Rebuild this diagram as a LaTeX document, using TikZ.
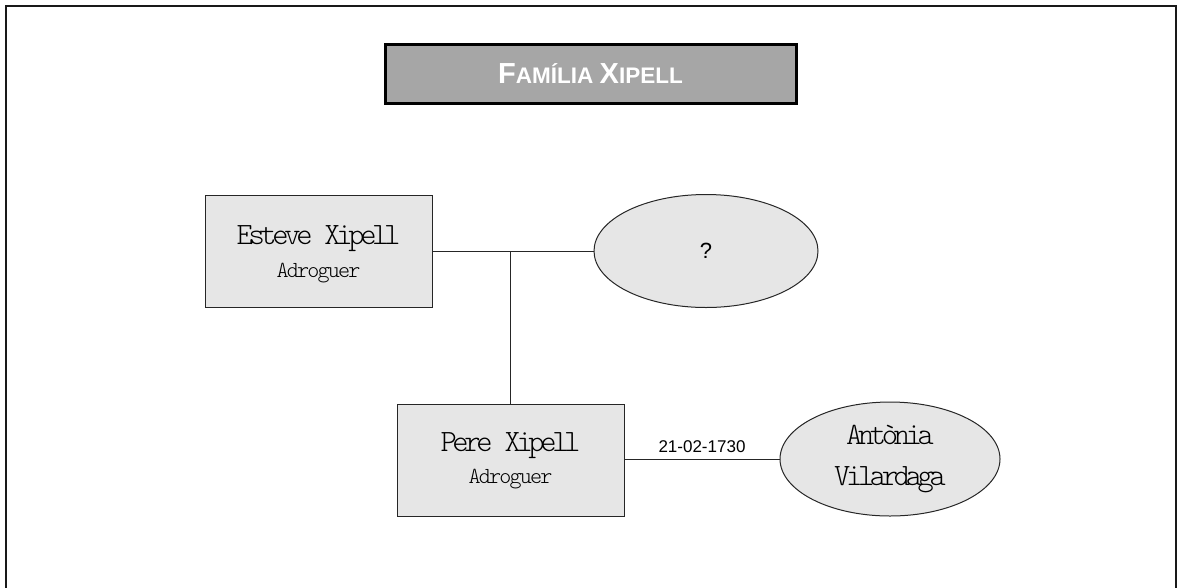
\documentclass[tikz,border=0pt]{standalone}
\usepackage{fontspec}
\setmainfont{Liberation Serif}
\newfontfamily\namefont[LetterSpace=-14]{Latin Modern Mono Light}
\newfontfamily\jobfont[LetterSpace=-8]{Latin Modern Mono Light}
\newfontfamily\sansfont{Liberation Sans}
\usetikzlibrary{shapes.geometric}
\definecolor{boxfill}{HTML}{E6E6E6}
\definecolor{titlefill}{HTML}{A6A6A6}
\tikzset{
  person/.style={draw=black!85, line width=1pt, fill=boxfill, minimum width=227pt, minimum height=112pt, inner sep=0pt},
  spouse/.style={ellipse, draw=black!85, line width=1pt, fill=boxfill, minimum width=224pt, minimum height=113pt, inner sep=0pt},
  link/.style={draw=black!85, line width=1pt},
  nm/.style={font=\namefont\fontsize{31}{33}\selectfont},
  job/.style={font=\jobfont\fontsize{23}{26}\selectfont},
}
\begin{document}
\begin{tikzpicture}[x=1pt,y=-1pt]
\useasboundingbox (0,0) rectangle (1177,587);
% frame
\draw[line width=2pt, black!90] (6,590) -- (6,6) -- (1175.5,6) -- (1175.5,590);
% title
\node[draw=black, line width=3pt, fill=titlefill, minimum width=411pt, minimum height=59pt, inner sep=0pt,
      text=white, font=\sansfont\bfseries] (title) at (590.5,73.5)
  {\fontsize{29}{31}\selectfont F\fontsize{22.5}{25}\selectfont AMÍLIA \fontsize{29}{31}\selectfont X\fontsize{22.5}{25}\selectfont IPELL};
% persons
\node[person] (esteve) at (318.5,251) {};
\node[nm] at ([yshift=12pt]esteve.center) {Esteve Xipell};
\node[job] at ([yshift=-22pt]esteve.center) {Adroguer};
\node[spouse] (q) at (706,251) {\sansfont\fontsize{22}{24}\selectfont ?};
\node[person] (pere) at (510.5,460) {};
\node[nm] at ([yshift=14pt]pere.center) {Pere Xipell};
\node[job] at ([yshift=-19pt]pere.center) {Adroguer};
\node[spouse, minimum width=220pt, minimum height=114pt] (ant) at (890,459) {};
\node[nm] at ([yshift=24pt]ant.center) {Antònia};
\node[nm] at ([yshift=-21pt]ant.center) {Vilardaga};
% connectors
\coordinate (j) at (510,251);
\draw[link] (esteve.east) -- (q.west);
\draw[link] (j) -- (pere.north -| j);
\draw[link] (pere.east |- ant.west) -- node[above=3pt, font=\sansfont\fontsize{17}{19}\selectfont] {21-02-1730} (ant.west);
\end{tikzpicture}
\end{document}
